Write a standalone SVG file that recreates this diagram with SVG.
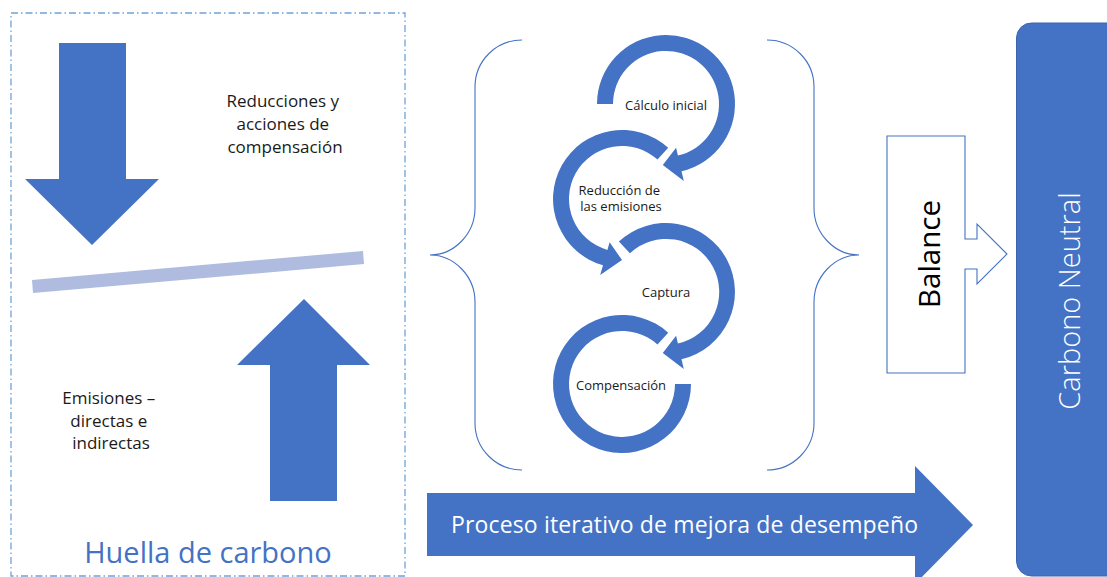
<svg xmlns="http://www.w3.org/2000/svg" width="1107" height="577" viewBox="0 0 1107 577">
<style>
.fill{fill:#4472C4}
.brace{fill:none;stroke:#4472C4;stroke-width:1.1}
.t{font-family:"Open Sans","Liberation Sans",sans-serif;fill:#1a1a1a}
.w{font-family:"Open Sans","Liberation Sans",sans-serif;fill:#ffffff}
</style>
<rect width="1107" height="577" fill="#ffffff"/>
<g id="huella">
  <rect x="11" y="13" width="394" height="563" fill="none" stroke="#6FA3D8" stroke-width="1.3" stroke-dasharray="7,3,1.5,3"/>
  <text class="t" x="208" y="563" text-anchor="middle" font-size="29" style="fill:#4472C4">Huella de carbono</text>
</g>
<g id="reducciones">
  <polygon class="fill" points="59,43 126,43 126,179 159,179 92,245 25,179 59,179"/>
  <text class="t" text-anchor="middle" font-size="17">
    <tspan x="285" y="107">Reducciones y</tspan>
    <tspan x="285" y="130">acciones de</tspan>
    <tspan x="285" y="153">compensación</tspan>
  </text>
</g>
<g id="balanza">
  <polygon points="32,280 363,251 364,264 33,293" fill="#AFBCE0"/>
</g>
<g id="emisiones">
  <polygon class="fill" points="270,501 337,501 337,365 370,365 304,299 237,365 270,365"/>
  <text class="t" text-anchor="middle" font-size="17">
    <tspan x="111" y="404">Emisiones –</tspan>
    <tspan x="111" y="427">directas e</tspan>
    <tspan x="111" y="449">indirectas</tspan>
  </text>
</g>
<g id="llaves">
  <path class="brace" d="M522,40 C496,40 475,61 475,87 L475,208 C475,234 454,255 430,255 C454,255 475,276 475,302 L475,423 C475,449 496,470 522,470"/>
  <path class="brace" d="M767,40 C793,40 814,61 814,87 L814,208 C814,234 835,255 859,255 C835,255 814,276 814,302 L814,423 C814,449 793,470 767,470"/>
</g>
<g id="connectors">
  <path class="fill" d="M597,104 A69,69 0 1 1 681.5,171.2 L683.8,181 L662.8,164.9 L676.1,147.8 L677.9,155.6 A53,53 0 1 0 613,104 Z"/>
  <path class="fill" d="M668.2,147.7 A69,69 0 1 0 603,265.3 L600.2,274.9 L622,260 L609.6,242.3 L607.4,249.9 A53,53 0 1 1 657.5,159.6 Z"/>
  <path class="fill" d="M618.9,241.5 A69,69 0 1 1 681.5,359.2 L683.8,369 L662.8,352.9 L676.1,335.8 L677.9,343.6 A53,53 0 1 0 629.9,253.3 Z"/>
  <path class="fill" d="M668.2,332.7 A69,69 0 1 0 691,384 L675,384 A53,53 0 1 1 657.5,344.6 Z"/>
</g>
<g id="calculo">
  <text class="t" x="666" y="110" text-anchor="middle" font-size="13">Cálculo inicial</text>
</g>
<g id="reduccion">
  <text class="t" text-anchor="middle" font-size="13">
    <tspan x="621" y="195">Reducción de</tspan>
    <tspan x="621" y="211">las emisiones</tspan>
  </text>
</g>
<g id="captura">
  <text class="t" x="666" y="297" text-anchor="middle" font-size="13">Captura</text>
</g>
<g id="compensacion">
  <text class="t" x="621" y="390" text-anchor="middle" font-size="13">Compensación</text>
</g>
<g id="proceso">
  <polygon class="fill" points="427,493 915,493 915,466 973,525 915,584 915,556 427,556"/>
  <text class="w" x="451" y="533" font-size="23" textLength="467" lengthAdjust="spacing">Proceso iterativo de mejora de desempeño</text>
</g>
<g id="balance">
  <path d="M887,136 L965,136 L965,239 L977,239 L977,224 L1007,254 L977,284 L977,269 L965,269 L965,373 L887,373 Z" fill="#ffffff" stroke="#4472C4" stroke-width="1.1"/>
  <text class="t" transform="translate(940,254) rotate(-90)" text-anchor="middle" font-size="29.5" style="fill:#000">Balance</text>
</g>
<g id="carbono-neutral">
  <rect class="fill" x="1016.5" y="23" width="120" height="553" rx="15" stroke="#3B64AE" stroke-width="1"/>
  <text class="w" transform="translate(1080,301) rotate(-90)" text-anchor="middle" font-size="29" font-weight="300">Carbono Neutral</text>
</g>
</svg>
